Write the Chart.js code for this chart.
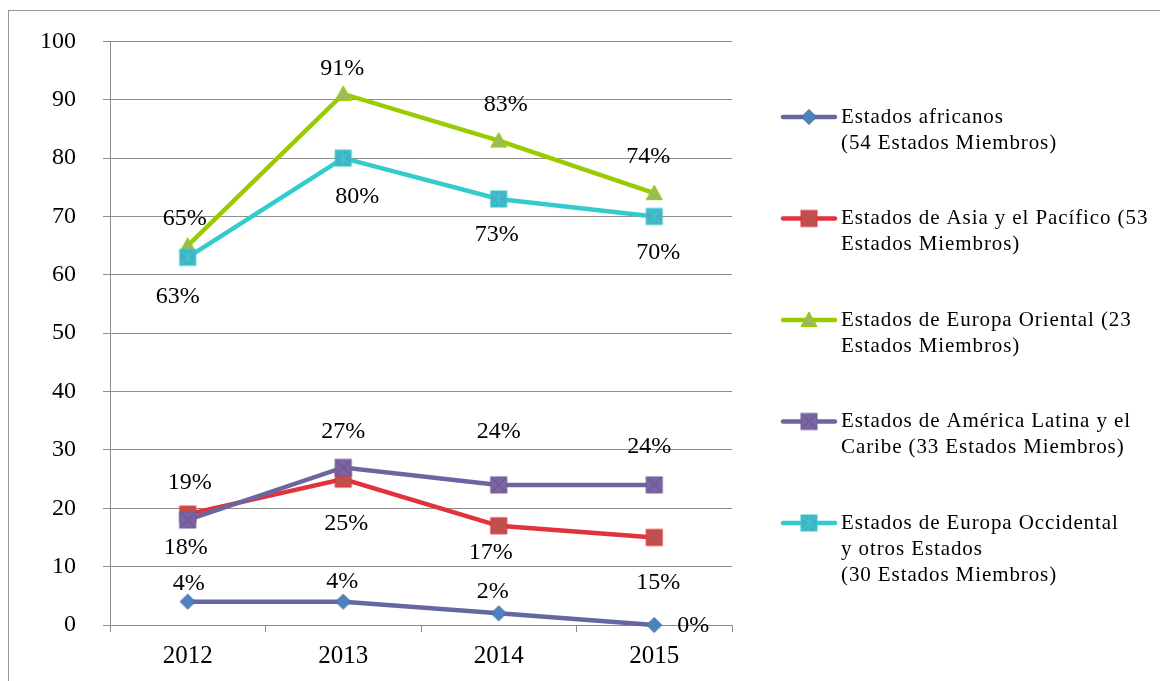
<!DOCTYPE html>
<html>
<head>
<meta charset="utf-8">
<script src="https://cdn.jsdelivr.net/npm/chart.js@4/dist/chart.umd.min.js"></script>
<style>
  body { margin: 0; background: #fff; }
  canvas { display: block; }
</style>
</head>
<body>
<canvas id="chart" width="1160" height="681"></canvas>
<script>
const years = ['2012', '2013', '2014', '2015'];

const africa   = [4, 4, 2, 0];
const asia     = [19, 25, 17, 15];
const eastEu   = [65, 91, 83, 74];
const latAm    = [18, 27, 24, 24];
const westEu   = [63, 80, 73, 70];

const seriesNames = [
  ['Estados africanos', '(54 Estados Miembros)'],
  ['Estados de Asia y el Pacífico (53', 'Estados Miembros)'],
  ['Estados de Europa Oriental (23', 'Estados Miembros)'],
  ['Estados de América Latina y el', 'Caribe (33 Estados Miembros)'],
  ['Estados de Europa Occidental', 'y otros Estados', '(30 Estados Miembros)']
];

// label offsets from each point [dx, dy]
const labelOffsets = [
  [[1, -18], [-1, -20], [-6, -22], [39, 1]],
  [[2, -31], [3, 45], [-8, 27], [4, 45]],
  [[-3, -27], [-1, -25], [7, -36], [-6, -36]],
  [[-2, 28], [0, -36], [0, -53], [-5, -38]],
  [[-10, 39], [14, 39], [-2, 36], [4, 36]]
];

const SERIF = "'Liberation Serif', 'Times New Roman', serif";

function makeMarker(kind, fill, stroke) {
  const c = document.createElement('canvas');
  c.width = 20; c.height = 20;
  const g = c.getContext('2d');
  g.fillStyle = fill;
  g.strokeStyle = stroke;
  g.lineWidth = 1;
  if (kind === 'diamond') {
    g.beginPath();
    g.moveTo(10, 2.5); g.lineTo(17.5, 10); g.lineTo(10, 17.5); g.lineTo(2.5, 10); g.closePath();
    g.fill(); g.stroke();
  } else if (kind === 'triangle') {
    g.beginPath();
    g.moveTo(10, 2); g.lineTo(18, 16.5); g.lineTo(2, 16.5); g.closePath();
    g.fill(); g.stroke();
  } else {
    g.fillRect(2, 2, 16, 16);
    g.strokeRect(2, 2, 16, 16);
    if (kind === 'squareX' || kind === 'squareStar') {
      g.lineWidth = 1.5;
      g.beginPath();
      g.moveTo(3.5, 3.5); g.lineTo(16.5, 16.5);
      g.moveTo(16.5, 3.5); g.lineTo(3.5, 16.5);
      if (kind === 'squareStar') { g.moveTo(10, 2.5); g.lineTo(10, 17.5); }
      g.stroke();
    }
  }
  return c;
}

const markers = [
  makeMarker('diamond', '#4F81BD', '#3C6DA6'),
  makeMarker('square', '#C0504D', '#E0333C'),
  makeMarker('triangle', '#9BBB59', '#99CC00'),
  makeMarker('squareX', '#8064A2', '#6A5B99'),
  makeMarker('squareStar', '#4BACC6', '#33CCCC')
];
const lineColors = ['#6667A0', '#E0333C', '#99CC00', '#6A67A0', '#33CCCC'];

const frame = {
  id: 'frame',
  beforeDraw(chart) {
    const ctx = chart.ctx;
    ctx.save();
    ctx.fillStyle = '#fff';
    ctx.fillRect(0, 0, chart.width, chart.height);
    ctx.strokeStyle = '#969696';
    ctx.lineWidth = 1;
    ctx.strokeRect(8.5, 10.5, 1300, 800);
    ctx.restore();
  }
};

const pointLabels = {
  id: 'pointLabels',
  afterDatasetsDraw(chart) {
    const ctx = chart.ctx;
    ctx.save();
    ctx.font = '24px ' + SERIF;
    ctx.fillStyle = '#000';
    ctx.textAlign = 'center';
    ctx.textBaseline = 'middle';
    chart.data.datasets.forEach((ds, i) => {
      chart.getDatasetMeta(i).data.forEach((pt, j) => {
        const off = labelOffsets[i][j];
        ctx.fillText(ds.data[j] + '%', pt.x + off[0], pt.y + off[1]);
      });
    });
    ctx.restore();
  }
};

const sideLegend = {
  id: 'sideLegend',
  afterDraw(chart) {
    const ctx = chart.ctx;
    const x0 = chart.chartArea.right + 51;
    ctx.save();
    ctx.font = '21px ' + SERIF;
    ctx.letterSpacing = '0.9px';
    ctx.fillStyle = '#000';
    ctx.textBaseline = 'middle';
    seriesNames.forEach((lines, i) => {
      const y = 117 + i * 101.5;
      ctx.strokeStyle = lineColors[i];
      ctx.lineWidth = 4.5;
      ctx.lineCap = 'round';
      ctx.beginPath();
      ctx.moveTo(x0, y); ctx.lineTo(x0 + 52, y);
      ctx.stroke();
      ctx.drawImage(markers[i], x0 + 26 - 10, y - 10);
      lines.forEach((t, k) => ctx.fillText(t, x0 + 58, y + k * 26));
    });
    ctx.restore();
  }
};

const allSeries = [africa, asia, eastEu, latAm, westEu];

new Chart(document.getElementById('chart'), {
  type: 'line',
  data: {
    labels: years,
    datasets: allSeries.map((vals, i) => ({
      label: seriesNames[i].join(' '),
      data: vals,
      borderColor: lineColors[i],
      borderWidth: 4.5,
      pointStyle: markers[i],
      pointRadius: 10,
      tension: 0,
      clip: false,
      order: 4 - i
    }))
  },
  options: {
    responsive: false,
    animation: false,
    layout: { padding: { left: 10, top: 39, right: 428, bottom: 10 } },
    plugins: { legend: { display: false }, tooltip: { enabled: false } },
    scales: {
      x: {
        offset: true,
        grid: { drawOnChartArea: false, drawTicks: true, tickLength: 7, color: '#8C8C8C', offset: true },
        border: { color: '#8C8C8C' },
        ticks: { color: '#000', font: { family: SERIF, size: 25 }, padding: 9 },
        afterFit(s) { s.height = 46; }
      },
      y: {
        min: 0,
        max: 100,
        ticks: { stepSize: 10, color: '#000', font: { family: SERIF, size: 24 }, padding: 27 },
        grid: { color: '#8C8C8C', tickLength: 7 },
        border: { color: '#8C8C8C' },
        afterFit(s) { s.width = 100; }
      }
    }
  },
  plugins: [frame, pointLabels, sideLegend]
});
</script>
</body>
</html>
